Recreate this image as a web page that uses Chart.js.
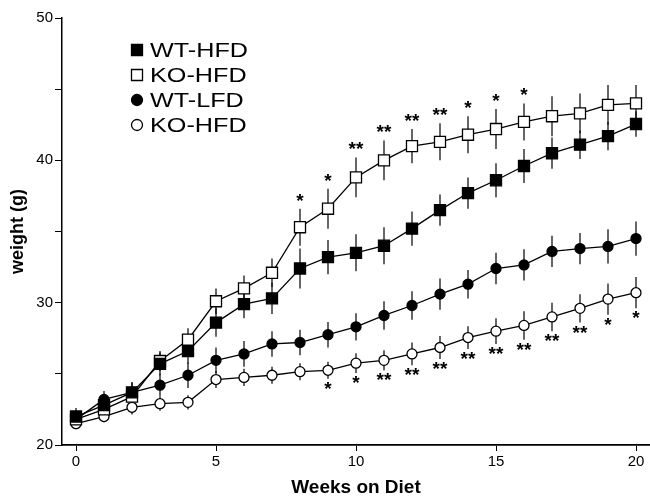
<!DOCTYPE html>
<html>
<head>
<meta charset="utf-8">
<script src="https://cdn.jsdelivr.net/npm/chart.js@4.4.1/dist/chart.umd.min.js"></script>
<style>
  html, body { margin: 0; padding: 0; background: #fff; }
  #wrap { width: 650px; height: 499px; }
</style>
</head>
<body>
<div id="wrap"><canvas id="c" width="650" height="499"></canvas></div>
<script>
const weeks = [0,1,2,3,4,5,6,7,8,9,10,11,12,13,14,15,16,17,18,19,20];
const seriesNames = ['WT-HFD', 'KO-HFD', 'WT-LFD', 'KO-HFD'];

const wtHfd = [22.0,22.8,23.7,25.7,26.6,28.6,29.9,30.3,32.4,33.2,33.5,34.0,35.2,36.5,37.7,38.6,39.6,40.5,41.1,41.7,42.55];
const koHfd = [21.8,22.5,23.4,25.9,27.4,30.1,31.0,32.1,35.3,36.6,38.8,40.0,41.0,41.3,41.8,42.2,42.7,43.1,43.3,43.9,44.0];
const wtLfd = [21.8,23.2,23.7,24.2,24.9,25.95,26.4,27.1,27.2,27.75,28.3,29.1,29.8,30.6,31.3,32.4,32.65,33.6,33.8,33.95,34.5];
const koLfd = [21.5,22.0,22.65,22.9,23.0,24.6,24.75,24.9,25.15,25.25,25.75,25.95,26.4,26.85,27.55,28.0,28.4,29.0,29.6,30.25,30.7];

const wtHfdErr = [0.6,0.6,0.7,0.8,0.9,1.0,1.0,1.1,1.4,1.2,1.3,1.3,1.2,1.1,1.1,1.2,1.2,1.1,1.0,1.0,0.9];
const koHfdErr = [0.5,0.6,0.6,0.7,0.8,0.9,0.9,1.0,1.3,1.4,1.4,1.4,1.2,1.3,1.3,1.4,1.3,1.4,1.4,1.4,1.3];
const wtLfdErr = [0.5,0.6,0.7,0.8,0.9,0.9,0.9,0.9,0.9,0.9,0.95,1.0,1.0,1.1,1.0,1.1,1.1,1.1,1.1,1.2,1.2];
const koLfdErr = [0.4,0.4,0.5,0.5,0.5,0.6,0.6,0.6,0.6,0.6,0.7,0.7,0.8,0.8,0.8,0.9,1.0,1.0,1.0,1.1,1.1];

// significance marks: KO-HFD above, KO-LFD (open circles) below
const koHfdSig = ['','','','','','','','','*','*','**','**','**','**','*','*','*','','','',''];
const koLfdSig = ['','','','','','','','','','*','*','**','**','**','**','**','**','**','**','*','*'];

const xTicks = [0,5,10,15,20];
const yTicks = [20,25,30,35,40,45,50];

const toPts = arr => weeks.map((w, i) => ({ x: w, y: arr[i] }));

const styles = [
  { pointStyle: 'rect', bg: '#000', r: 7.8 },
  { pointStyle: 'rect', bg: '#fff', r: 7.8 },
  { pointStyle: 'circle', bg: '#000', r: 5 },
  { pointStyle: 'circle', bg: '#fff', r: 5 }
];
const values = [wtHfd, koHfd, wtLfd, koLfd];
const errs = [wtHfdErr, koHfdErr, wtLfdErr, koLfdErr];

const datasets = values.map((v, i) => ({
  label: seriesNames[i],
  data: toPts(v),
  borderColor: '#000',
  borderWidth: 1.3,
  pointStyle: styles[i].pointStyle,
  pointRadius: styles[i].r,
  pointBackgroundColor: styles[i].bg,
  pointBorderColor: '#000',
  pointBorderWidth: 1.3,
  tension: 0,
  fill: false,
  clip: false,
  errors: errs[i]
}));

const errorBars = {
  id: 'errorBars',
  beforeDatasetsDraw(chart) {
    const ctx = chart.ctx, xs = chart.scales.x, ys = chart.scales.y;
    ctx.save();
    ctx.strokeStyle = '#000';
    ctx.lineWidth = 1.2;
    chart.data.datasets.forEach(ds => {
      ds.data.forEach((p, i) => {
        const e = ds.errors[i];
        const px = xs.getPixelForValue(p.x);
        ctx.beginPath();
        ctx.moveTo(px, ys.getPixelForValue(p.y + e));
        ctx.lineTo(px, ys.getPixelForValue(p.y - e));
        ctx.stroke();
      });
    });
    ctx.restore();
  }
};

const annotations = {
  id: 'annotations',
  afterDatasetsDraw(chart) {
    const ctx = chart.ctx, xs = chart.scales.x, ys = chart.scales.y;
    ctx.save();
    ctx.fillStyle = '#000';
    ctx.font = 'bold 19px "Liberation Sans", Arial, sans-serif';
    ctx.textAlign = 'center';
    ctx.textBaseline = 'alphabetic';
    weeks.forEach((w, i) => {
      const px = xs.getPixelForValue(w);
      if (koHfdSig[i]) {
        const top = ys.getPixelForValue(koHfd[i] + koHfdErr[i]);
        ctx.fillText(koHfdSig[i], px, top - 2);
      }
      if (koLfdSig[i]) {
        const bot = ys.getPixelForValue(koLfd[i] - koLfdErr[i]);
        ctx.fillText(koLfdSig[i], px, bot + 16);
      }
    });
    ctx.restore();
  }
};

const legendPlugin = {
  id: 'customLegend',
  afterDraw(chart) {
    const ctx = chart.ctx;
    ctx.save();
    ctx.strokeStyle = '#000';
    ctx.font = '21px "Liberation Sans", Arial, sans-serif';
    ctx.textBaseline = 'middle';
    const x0 = 137, y0 = 50, dy = 25;
    seriesNames.forEach((name, i) => {
      const y = y0 + i * dy;
      ctx.lineWidth = 1.3;
      ctx.beginPath();
      if (styles[i].pointStyle === 'rect') {
        ctx.rect(x0 - 5.5, y - 5.5, 11, 11);
      } else {
        ctx.arc(x0, y, 5.5, 0, Math.PI * 2);
      }
      ctx.fillStyle = styles[i].bg; ctx.fill();
      ctx.stroke();
      ctx.fillStyle = '#000';
      ctx.save();
      ctx.translate(150, y + 1);
      ctx.scale(1.2, 1);
      ctx.fillText(name, 0, 0);
      ctx.restore();
    });
    ctx.restore();
  }
};

new Chart(document.getElementById('c'), {
  type: 'line',
  data: { datasets },
  options: {
    responsive: false,
    animation: false,
    events: [],
    layout: { autoPadding: false, padding: { top: 18, right: 0, left: 0, bottom: 0 } },
    plugins: { legend: { display: false }, tooltip: { enabled: false } },
    scales: {
      x: {
        type: 'linear',
        min: -0.5,
        max: 20.5,
        afterBuildTicks: s => { s.ticks = xTicks.map(v => ({ value: v })); },
        afterFit: s => { s.height = 54; s.paddingRight = 0; s.paddingLeft = 0; },
        ticks: { color: '#000', font: { family: '"Liberation Sans", Arial', size: 15 }, padding: 2, maxRotation: 0 },
        grid: { drawOnChartArea: false, drawTicks: true, tickLength: 6, color: '#000', lineWidth: 1 },
        border: { color: '#000', width: 1.8 },
        title: { display: true, text: 'Weeks on Diet', color: '#000', font: { family: '"Liberation Sans", Arial', size: 19, weight: 'bold' }, padding: { top: 4, bottom: 0 } }
      },
      y: {
        min: 20,
        max: 50,
        afterBuildTicks: s => { s.ticks = yTicks.map(v => ({ value: v })); },
        afterFit: s => { s.width = 62; },
        ticks: { color: '#000', font: { family: '"Liberation Sans", Arial', size: 15 }, padding: 2, callback: v => (v % 10 === 0 ? v : '') },
        grid: { drawOnChartArea: false, drawTicks: true, tickLength: 7, color: '#000', lineWidth: 1 },
        border: { color: '#000', width: 1.5 },
        title: { display: true, text: 'weight (g)', color: '#000', font: { family: '"Liberation Sans", Arial', size: 18, weight: 'bold' }, padding: { top: 7, bottom: 0 } }
      }
    }
  },
  plugins: [errorBars, annotations, legendPlugin]
});
</script>
</body>
</html>
